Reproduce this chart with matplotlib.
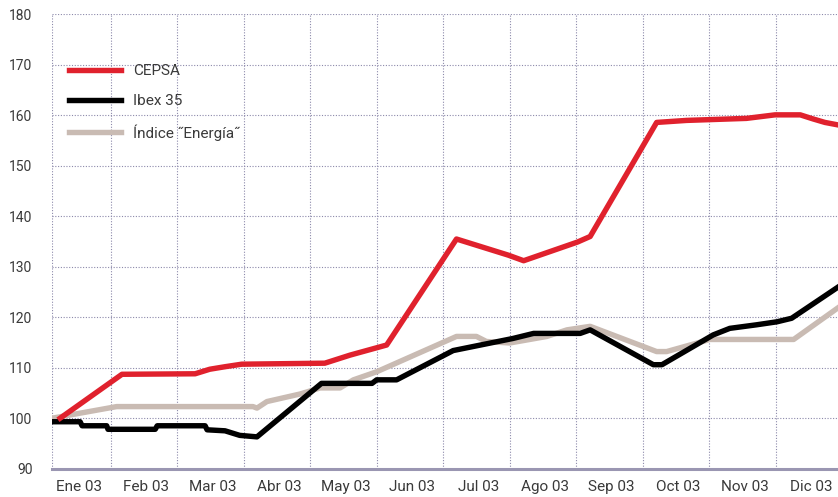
import matplotlib
import matplotlib.pyplot as plt

matplotlib.use("Agg")

plt.rcParams["font.family"] = ["Roboto", "DejaVu Sans"]

MONTHS = ["Ene 03", "Feb 03", "Mar 03", "Abr 03", "May 03", "Jun 03",
          "Jul 03", "Ago 03", "Sep 03", "Oct 03", "Nov 03", "Dic 03"]
Y_TICKS = [90, 100, 110, 120, 130, 140, 150, 160, 170, 180]

# x in month units (gridline k = boundary after month k)
CEPSA_X = [0.24, 1.17, 2.27, 2.49, 2.72, 2.97, 4.22, 4.60, 5.15, 5.30, 6.20,
           6.98, 7.21, 8.02, 8.21, 9.21, 9.66, 10.56, 10.99, 11.37, 11.56, 11.74, 11.94]
CEPSA_Y = [100.0, 108.7, 108.8, 109.7, 110.2, 110.7, 110.9, 112.5, 114.5, 117.5, 135.5,
           132.3, 131.2, 134.9, 136.0, 158.6, 159.0, 159.4, 160.1, 160.1, 159.3, 158.6, 158.1]

IBEX_X = [0.12, 0.54, 0.57, 0.94, 0.96, 1.67, 1.70, 2.42, 2.45, 2.72, 2.94, 3.20,
          4.17, 4.93, 5.00, 5.30, 6.15, 7.05, 7.36, 8.06, 8.21, 9.16, 9.29,
          10.06, 10.31, 10.71, 11.02, 11.24, 11.94]
IBEX_Y = [99.3, 99.3, 98.5, 98.5, 97.8, 97.8, 98.5, 98.5, 97.7, 97.5, 96.6, 96.3,
          106.9, 106.9, 107.6, 107.6, 113.4, 115.8, 116.8, 116.8, 117.5, 110.6, 110.6,
          116.5, 117.8, 118.5, 119.1, 119.8, 126.0]

ENERGIA_X = [0.12, 1.09, 3.14, 3.20, 3.35, 3.85, 4.15, 4.45, 4.65, 5.00, 6.20,
             6.50, 6.65, 7.00, 7.56, 7.86, 8.21, 9.21, 9.36, 10.01, 11.27, 11.94]
ENERGIA_Y = [100.0, 102.3, 102.3, 102.0, 103.3, 104.8, 106.0, 106.0, 107.6, 109.2, 116.2,
             116.2, 115.2, 114.9, 116.2, 117.5, 118.2, 113.2, 113.2, 115.6, 115.6, 121.9]

fig = plt.figure(figsize=(8.38, 4.97), dpi=100)
ax = fig.add_axes([0.062, 0.057, 0.938, 0.914])

ax.plot(ENERGIA_X, ENERGIA_Y, color="#c9bbb3", linewidth=3.9, label="Índice \u02ddEnergía\u02dd",
        solid_joinstyle="round", zorder=3)
ax.plot(IBEX_X, IBEX_Y, color="#000000", linewidth=3.9, label="Ibex 35",
        solid_joinstyle="round", zorder=4)
ax.plot(CEPSA_X, CEPSA_Y, color="#e0212d", linewidth=3.9, label="CEPSA",
        solid_joinstyle="round", zorder=5)

ax.set_xlim(0.117, 11.937)
ax.set_ylim(90, 180)

ax.set_yticks(Y_TICKS)
ax.set_xticks(range(1, 12))
ax.set_xticklabels([])
ax.set_xticks([i + 0.53 for i in range(len(MONTHS))], minor=True)
ax.set_xticklabels(MONTHS, minor=True)

ax.grid(True, which="major", linestyle=(0, (1, 1.5)), color="#8c89aa", linewidth=0.8)
ax.axvline(0.117, linestyle=(0, (1, 1.5)), color="#8c89aa", linewidth=0.8, zorder=1)

for side in ["top", "right", "left"]:
    ax.spines[side].set_visible(False)
ax.spines["bottom"].set_color("#9a96b2")
ax.spines["bottom"].set_linewidth(2.2)

ax.tick_params(axis="both", which="both", length=0, colors="#3a3a3a")
ax.tick_params(axis="x", which="minor", pad=8, labelsize=11)
ax.tick_params(axis="y", pad=14, labelsize=10)

handles, labels = ax.get_legend_handles_labels()
ax.legend(handles[::-1], labels[::-1], loc="upper left", bbox_to_anchor=(0.066, 0.899),
          bbox_transform=fig.transFigure, frameon=False, fontsize=11,
          handlelength=3.4, handletextpad=0.8, labelspacing=1.05, labelcolor="#3a3a3a")

plt.savefig("out.png", dpi=100)
